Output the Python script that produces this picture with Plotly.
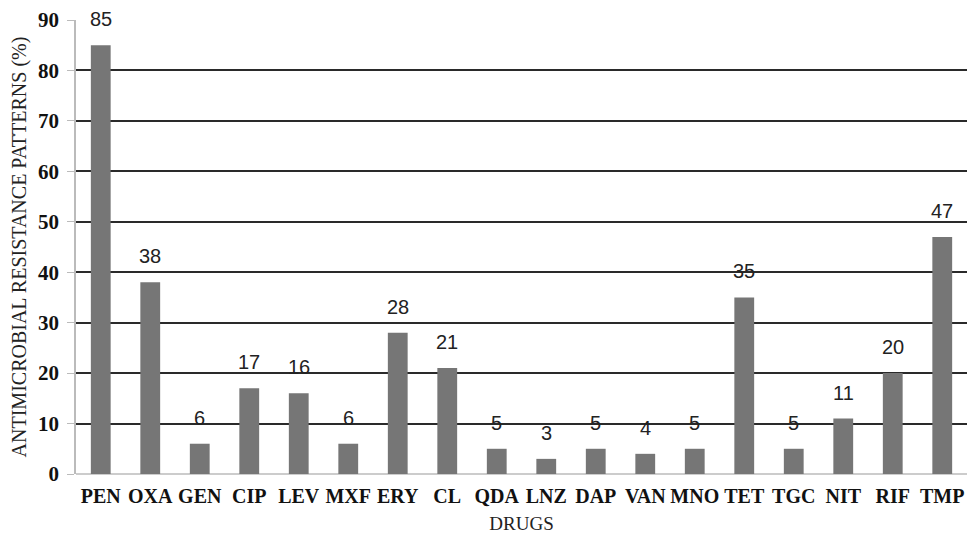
import plotly.graph_objects as go

drugs = ["PEN", "OXA", "GEN", "CIP", "LEV", "MXF", "ERY", "CL", "QDA", "LNZ",
         "DAP", "VAN", "MNO", "TET", "TGC", "NIT", "RIF", "TMP"]
resistance = [85, 38, 6, 17, 16, 6, 28, 21, 5, 3, 5, 4, 5, 35, 5, 11, 20, 47]
y_ticks = [0, 10, 20, 30, 40, 50, 60, 70, 80, 90]

SERIF = "Liberation Serif, Times New Roman, serif"

fig = go.Figure()
fig.add_trace(go.Bar(x=drugs, y=resistance, marker_color="#767676",
                     marker_line_width=0, showlegend=False))

for d, v in zip(drugs, resistance):
    fig.add_annotation(x=d, y=v, text=str(v), showarrow=False, yanchor="bottom",
                       yshift=13, font=dict(family="Liberation Sans, Arial", size=20, color="#222"))

fig.update_layout(
    width=967, height=537,
    margin=dict(l=76, r=0, t=20, b=63),
    plot_bgcolor="white", paper_bgcolor="white",
    bargap=0.6,
    xaxis=dict(
        title=dict(text="DRUGS", font=dict(family=SERIF, size=19, color="#222"), standoff=10),
        tickfont=dict(family=SERIF, size=20, color="#111", weight="bold"),
        showgrid=False, showline=False, ticks="", zeroline=False, ticklabelstandoff=8,
    ),
    yaxis=dict(
        title=dict(text="ANTIMICROBIAL RESISTANCE PATTERNS (%)",
                   font=dict(family=SERIF, size=20, color="#222"), standoff=6),
        tickfont=dict(family=SERIF, size=21, color="#111", weight="bold"),
        range=[0, 90], tickvals=y_ticks, showgrid=True, gridcolor="#2a2a2a", gridwidth=1.6,
        showline=True, linecolor="#bbbbbb", linewidth=1.5,
        ticks="outside", ticklen=7, tickcolor="#bbbbbb", ticklabelstandoff=4,
        zeroline=True, zerolinecolor="#cccccc", zerolinewidth=1.5,
    ),
)

fig.write_html("out.html", config={"displayModeBar": False},
               post_script="document.body.style.margin='0';document.body.style.overflow='hidden';")
